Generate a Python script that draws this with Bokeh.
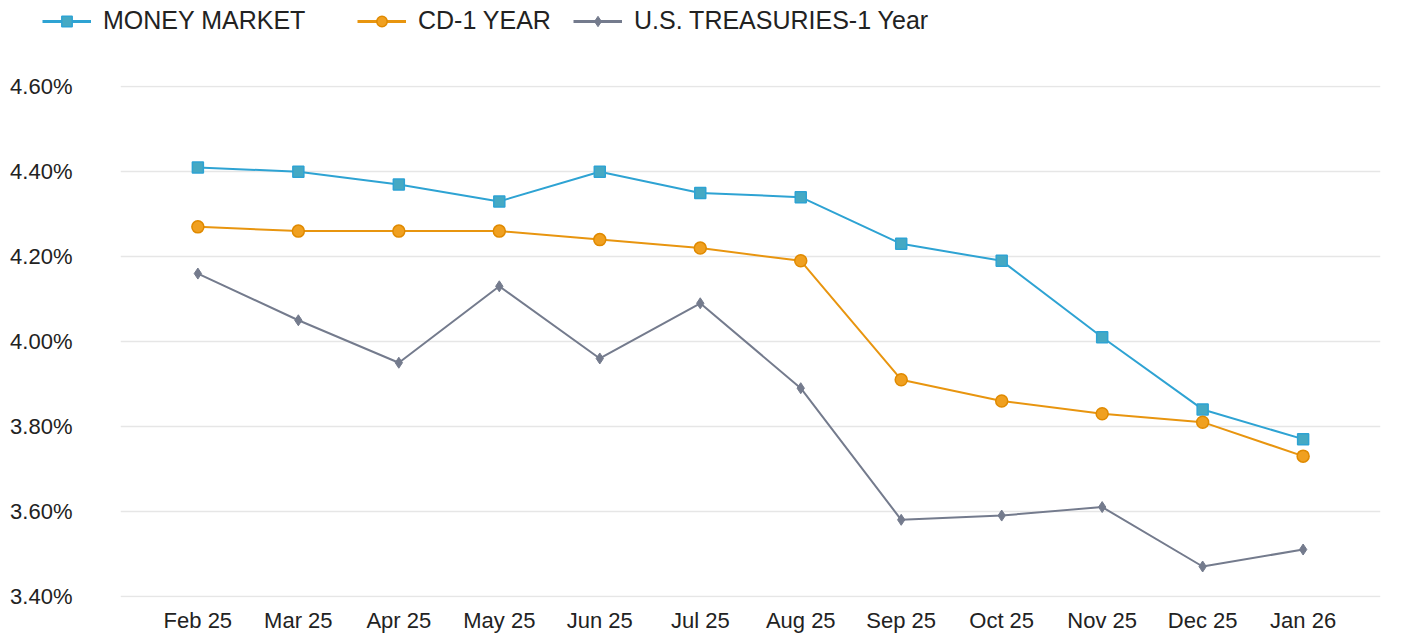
from bokeh.plotting import figure
from bokeh.layouts import column, row
from bokeh.models import Legend, LegendItem, FactorRange, Range1d, FixedTicker, ColumnDataSource
from bokeh.embed import file_html
from bokeh.resources import INLINE

months = ["Feb 25", "Mar 25", "Apr 25", "May 25", "Jun 25", "Jul 25", "Aug 25",
          "Sep 25", "Oct 25", "Nov 25", "Dec 25", "Jan 26"]
money_market = [4.41, 4.40, 4.37, 4.33, 4.40, 4.35, 4.34, 4.23, 4.19, 4.01, 3.84, 3.77]
cd_1_year = [4.27, 4.26, 4.26, 4.26, 4.24, 4.22, 4.19, 3.91, 3.86, 3.83, 3.81, 3.73]
treasuries_1_year = [4.16, 4.05, 3.95, 4.13, 3.96, 4.09, 3.89, 3.58, 3.59, 3.61, 3.47, 3.51]
y_ticks = [3.40, 3.60, 3.80, 4.00, 4.20, 4.40, 4.60]
series_names = ["MONEY MARKET", "CD-1 YEAR", "U.S. TREASURIES-1 Year"]

FONT = "Liberation Sans"

mm_col = "#2ea3d3"
cd_col = "#e8950f"
tr_col = "#747b8d"

styles = [
    dict(line_color=mm_col, marker="square", size=11, fill_color="#45a9c4", mline=mm_col, mlw=1.5),
    dict(line_color=cd_col, marker="circle", size=12, fill_color="#f0a020", mline="#e08a00", mlw=1.5),
    dict(line_color=tr_col, marker="diamond", size=11, fill_color=tr_col, mline=tr_col, mlw=1),
]

# ---- main chart ----
p = figure(width=1408, height=596, output_backend="svg", toolbar_location=None,
           x_range=FactorRange(*months, range_padding=0.27, range_padding_units="absolute"),
           y_range=Range1d(3.397, 4.603),
           min_border_left=120, min_border_right=28, min_border_top=45, min_border_bottom=39)

p.outline_line_color = None
p.background_fill_color = "white"
p.border_fill_color = "white"

p.xgrid.grid_line_color = None
p.ygrid.grid_line_color = "#e6e6e6"
p.ygrid.grid_line_width = 1.5
p.yaxis.ticker = FixedTicker(ticks=y_ticks)
p.yaxis.major_label_overrides = {t: f"{t:.2f}%" for t in y_ticks}

for ax in (p.xaxis, p.yaxis):
    ax.axis_line_color = None
    ax.major_tick_line_color = None
    ax.minor_tick_line_color = None
    ax.major_tick_out = 0
    ax.major_tick_in = 0
    ax.major_label_text_font = FONT
    ax.major_label_text_color = "#222222"

p.yaxis.major_label_text_font_size = "22px"
p.yaxis.major_label_standoff = 48
p.xaxis.major_label_text_font_size = "22px"
p.xaxis.major_label_standoff = 10

for vals, st in zip([money_market, cd_1_year, treasuries_1_year], styles):
    p.line(months, vals, line_color=st["line_color"], line_width=2)
    p.scatter(months, vals, marker=st["marker"], size=st["size"], fill_color=st["fill_color"],
              line_color=st["mline"], line_width=st["mlw"])

# ---- legend strip ----
pl = figure(width=1408, height=40, output_backend="svg", toolbar_location=None,
            x_range=Range1d(0, 1), y_range=Range1d(0, 1),
            x_axis_type=None, y_axis_type=None,
            min_border=0, min_border_left=0, min_border_right=0,
            min_border_top=0, min_border_bottom=0)
pl.outline_line_color = None
pl.xgrid.grid_line_color = None
pl.ygrid.grid_line_color = None
pl.border_fill_color = "white"

nan = float("nan")
legend_x = [42, 357, 573]
for name, st, lx in zip(series_names, styles, legend_x):
    src = ColumnDataSource(data=dict(x=[nan], y=[nan]))
    rl = pl.line("x", "y", source=src, line_color=st["line_color"], line_width=3)
    rs = pl.scatter("x", "y", source=src, marker=st["marker"], size=st["size"] - 2,
                    fill_color=st["fill_color"], line_color=st["mline"], line_width=st["mlw"])
    lg = Legend(items=[LegendItem(label=name, renderers=[rl, rs])],
                orientation="horizontal", location=(lx, 5),
                label_text_font=FONT, label_text_font_size="25px", label_text_color="#222222",
                glyph_width=49, glyph_height=26, label_standoff=12,
                padding=0, margin=0, border_line_color=None, background_fill_alpha=0)
    pl.add_layout(lg)

layout = column(row(pl), row(p), spacing=0)
open("out.html", "w").write(file_html(layout, INLINE))
